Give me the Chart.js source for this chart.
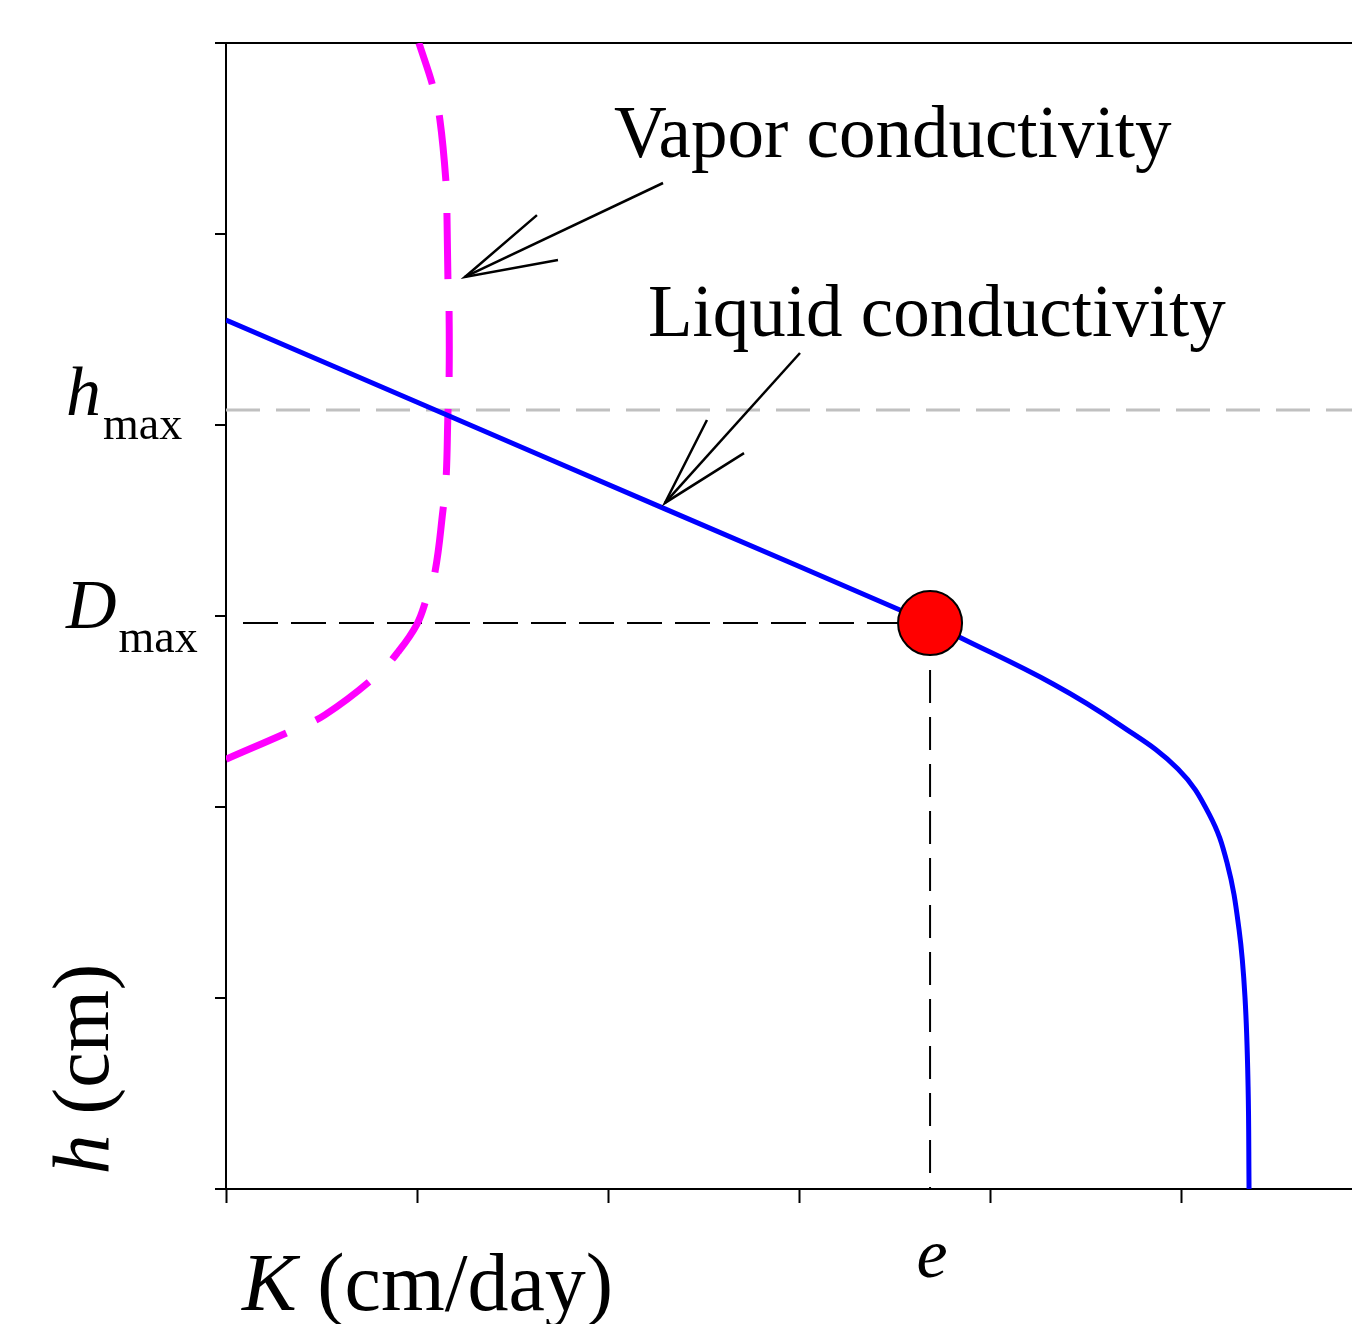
<!DOCTYPE html>
<html>
<head>
<meta charset="utf-8">
<script src="https://cdn.jsdelivr.net/npm/chart.js@4/dist/chart.umd.min.js"></script>
<style>
  body { margin: 0; background: #fff; }
  canvas { display: block; }
</style>
</head>
<body>
<canvas id="chart" width="1352" height="1324"></canvas>
<script>
// values (arbitrary units, one unit = one tick)
const liquidK = [0, 1.120, 2.298, 3.686, 3.838, 4.330, 4.681, 4.984, 5.147, 5.241, 5.304, 5.335, 5.351, 5.356];
const liquidH = [4.550, 4.068, 3.561, 2.963, 2.890, 2.644, 2.429, 2.199, 1.963, 1.707, 1.356, 1.000, 0.534, 0];

const vaporK = [0, 0.351, 0.518, 0.791, 0.901, 1.000, 1.052, 1.094, 1.136, 1.152, 1.162, 1.168, 1.168, 1.162, 1.157, 1.152, 1.120, 1.084, 1.010];
const vaporH = [2.250, 2.403, 2.482, 2.691, 2.812, 2.958, 3.099, 3.230, 3.555, 3.712, 4.063, 4.236, 4.586, 4.759, 5.089, 5.267, 5.597, 5.770, 6.0];

const hMax = 4.079;
const dMax = 2.963;
const eK = 3.686;
const dashStartK = 0.089;

const xTicks = [0, 1, 2, 3, 4, 5];
const yTicks = [0, 1, 2, 3, 4, 5, 6];
const xMax = 5.895;
const yMax = 6;

// arrows: shaft (tail -> tip) and head (barb, tip, barb)
const vaporShaftK = [2.288, 1.251];
const vaporShaftH = [5.267, 4.775];
const vaporHeadK = [1.628, 1.251, 1.738];
const vaporHeadH = [5.099, 4.775, 4.864];
const liquidShaftK = [3.005, 2.298];
const liquidShaftH = [4.377, 3.592];
const liquidHeadK = [2.518, 2.298, 2.712];
const liquidHeadH = [4.026, 3.592, 3.853];

const notes = [
  { text: 'Vapor conductivity', k: 2.031, h: 5.403 },
  { text: 'Liquid conductivity', k: 2.209, h: 4.466 }
];

const serif = '"Liberation Serif", "Times New Roman", serif';

function pts(xs, ys) {
  return xs.map((v, i) => ({ x: v, y: ys[i] }));
}

function arrowSet(xs, ys) {
  return {
    data: pts(xs, ys), showLine: true, borderColor: '#000', borderWidth: 2.5,
    pointRadius: 0, tension: 0, order: 0
  };
}

const labelPlugin = {
  id: 'labels',
  afterDraw(chart) {
    const { ctx, chartArea } = chart;
    const x = chart.scales.x, y = chart.scales.y;
    ctx.save();
    ctx.fillStyle = '#000';
    ctx.textBaseline = 'alphabetic';

    ctx.textAlign = 'left';
    ctx.font = '73px ' + serif;
    notes.forEach(n => ctx.fillText(n.text, x.getPixelForValue(n.k), y.getPixelForValue(n.h)));

    // y labels with subscripts
    function sub(main, s, py) {
      ctx.font = 'italic 70px ' + serif;
      ctx.fillText(main, 66, py + 5);
      const w = ctx.measureText(main).width;
      ctx.font = '46px ' + serif;
      ctx.fillText(s, 66 + w + 2, py + 29);
    }
    sub('h', 'max', y.getPixelForValue(hMax));
    sub('D', 'max', y.getPixelForValue(dMax));

    // x label e
    ctx.textAlign = 'center';
    ctx.font = 'italic 70px ' + serif;
    ctx.fillText('e', x.getPixelForValue(eK) + 2, chartArea.bottom + 88);

    // axis titles
    ctx.textAlign = 'left';
    let px = chartArea.left + 16;
    const by = chartArea.bottom + 121;
    ctx.font = 'italic 82px ' + serif;
    ctx.fillText('K', px, by);
    px += ctx.measureText('K').width;
    ctx.font = '82px ' + serif;
    ctx.fillText(' (cm/day)', px, by);

    ctx.font = 'italic 80px ' + serif;
    const w1 = ctx.measureText('h').width;
    ctx.font = '80px ' + serif;
    const w2 = ctx.measureText(' (cm)').width;
    ctx.translate(108, 1069 + (w1 + w2) / 2);
    ctx.rotate(-Math.PI / 2);
    ctx.font = 'italic 80px ' + serif;
    ctx.fillText('h', 0, 0);
    ctx.font = '80px ' + serif;
    ctx.fillText(' (cm)', w1, 0);
    ctx.restore();
  }
};

new Chart(document.getElementById('chart'), {
  type: 'scatter',
  data: {
    datasets: [
      {
        data: [{ x: eK, y: dMax }], backgroundColor: '#ff0000', borderColor: '#000',
        borderWidth: 2, pointRadius: 32, order: 0
      },
      arrowSet(vaporShaftK, vaporShaftH),
      arrowSet(vaporHeadK, vaporHeadH),
      arrowSet(liquidShaftK, liquidShaftH),
      arrowSet(liquidHeadK, liquidHeadH),
      {
        data: pts(liquidK, liquidH), showLine: true, borderColor: '#0000ff', borderWidth: 5,
        pointRadius: 0, tension: 0.4, order: 1
      },
      {
        data: pts(vaporK, vaporH), showLine: true, borderColor: '#ff00ff', borderWidth: 7,
        borderDash: [66, 32], pointRadius: 0, tension: 0.4, order: 2
      },
      {
        data: [{ x: dashStartK, y: dMax }, { x: eK, y: dMax }], showLine: true, borderColor: '#000',
        borderWidth: 2, borderDash: [35, 13], pointRadius: 0, order: 3
      },
      {
        data: [{ x: eK, y: dMax }, { x: eK, y: 0 }], showLine: true, borderColor: '#000',
        borderWidth: 2, borderDash: [33, 14], pointRadius: 0, order: 3
      },
      {
        data: [{ x: 0, y: hMax }, { x: xMax, y: hMax }], showLine: true, borderColor: '#c0c0c0',
        borderWidth: 3, borderDash: [34, 16], pointRadius: 0, order: 4
      }
    ]
  },
  options: {
    responsive: false,
    devicePixelRatio: 1,
    animation: false,
    layout: { autoPadding: false, padding: { top: 43, left: 0, right: 0, bottom: 0 } },
    plugins: { legend: { display: false }, tooltip: { enabled: false } },
    scales: {
      x: {
        type: 'linear', min: 0, max: xMax,
        afterBuildTicks: s => { s.ticks = xTicks.map(v => ({ value: v })); },
        afterFit: s => { s.height = 135; },
        ticks: { display: false },
        grid: { drawOnChartArea: false, tickColor: '#000', tickLength: 14, tickWidth: 2 },
        border: { display: true, color: '#000', width: 2 }
      },
      y: {
        type: 'linear', min: 0, max: yMax,
        afterBuildTicks: s => { s.ticks = yTicks.map(v => ({ value: v })); },
        afterFit: s => { s.width = 226; },
        ticks: { display: false },
        grid: {
          color: c => (c.tick && c.tick.value === yMax ? '#000' : 'rgba(0,0,0,0)'),
          lineWidth: 2, tickColor: '#000', tickLength: 11, tickWidth: 2
        },
        border: { display: true, color: '#000', width: 2 }
      }
    }
  },
  plugins: [labelPlugin]
});
</script>
</body>
</html>
